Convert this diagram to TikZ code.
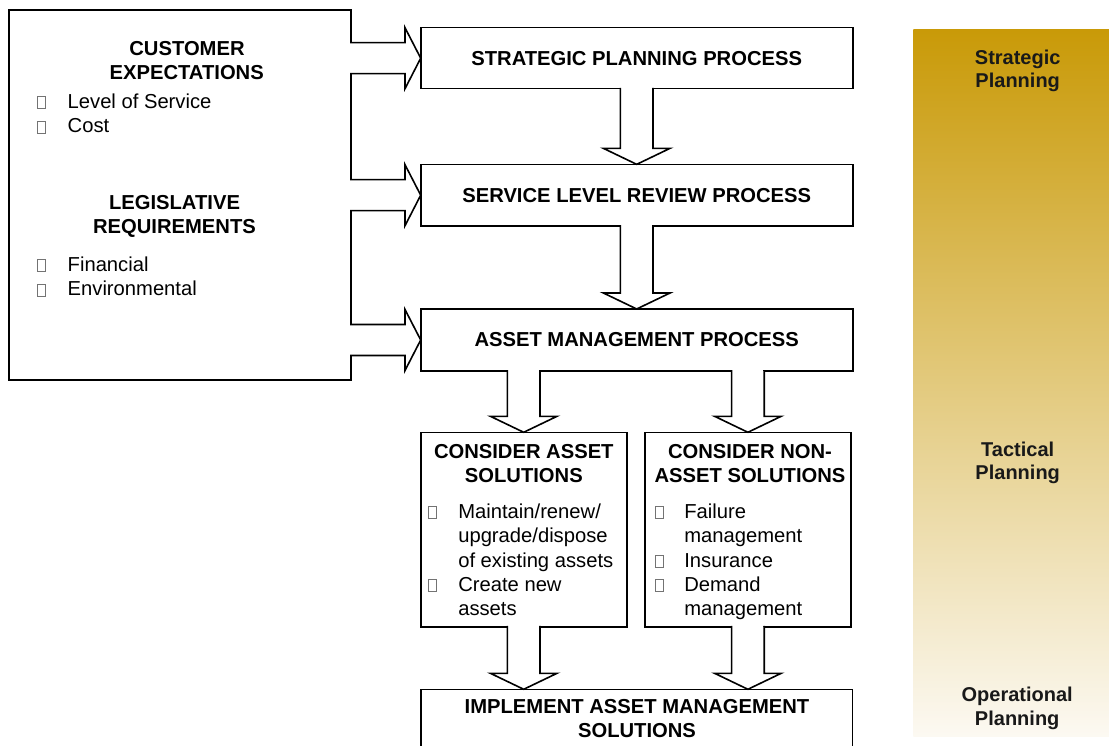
\documentclass[tikz,border=0pt]{standalone}
\usepackage{fontspec}
\setmainfont{Liberation Sans}
\usetikzlibrary{calc}
\definecolor{bandtop}{RGB}{201,154,8}
\definecolor{bandbot}{RGB}{252,249,242}
\newcommand{\hblock}[2]{%
  \fill[white] ($(#1)+(-1.5,-14.7)$) rectangle ($(#2)+(-15.7,14.7)$);
  \draw[blk] ($(#1)+(0,-15.5)$) -- ($(#2)+(-15.7,-15.5)$) -- ($(#2)+(-15.7,-30.5)$) -- (#2)
    -- ($(#2)+(-15.7,30.5)$) -- ($(#2)+(-15.7,15.5)$) -- ($(#1)+(0,15.5)$);}
\newcommand{\vblock}[2]{%
  \fill[white] ($(#1)+(-15.5,-1.5)$) rectangle ($(#2)+(15.5,-16)$);
  \draw[blk] ($(#1)+(-16.3,0)$) -- ($(#2)+(-16.3,-16)$) -- ($(#2)+(-33.3,-16)$) -- (#2)
    -- ($(#2)+(33.3,-16)$) -- ($(#2)+(16.3,-16)$) -- ($(#1)+(16.3,0)$);}
\begin{document}
\begin{tikzpicture}[x=1pt,y=-1pt,
  every node/.style={font=\fontsize{20.2pt}{24.4pt}\selectfont, inner sep=0pt, outer sep=0pt},
  box/.style={draw, line width=1.6pt, fill=white},
  mbox/.style={box, font=\fontsize{20.2pt}{24.4pt}\selectfont\bfseries},
  blk/.style={draw, line width=1.6pt, line cap=rect, line join=miter, fill=white},
  hd/.style={font=\fontsize{20.2pt}{24.4pt}\selectfont\bfseries, anchor=base},
  li/.style={anchor=base west},
  bul/.style={draw=black!55, line width=0.7pt, minimum width=8pt, minimum height=12pt, anchor=south},
  bandtxt/.style={font=\fontsize{20pt}{24pt}\selectfont\bfseries, text=black!90, anchor=base}]
\useasboundingbox (0,0) rectangle (1109,746);
\clip (0,0) rectangle (1109,746);

% gradient band
\shade[top color=bandtop, bottom color=bandbot] (913.3,30) rectangle (1109,736);
\node[bandtxt] (s1) at (1017.7,64.3) {Strategic};
\node[bandtxt] (s2) at (1017.7,87.5) {Planning};
\node[bandtxt] (s3) at (1017.7,456.2) {Tactical};
\node[bandtxt] (s4) at (1017.7,479.8) {Planning};
\node[bandtxt] (s5) at (1017.2,701.7) {Operational};
\node[bandtxt] (s6) at (1017.2,725.7) {Planning};

% boxes
\node[box, minimum width=342pt, minimum height=370pt, anchor=north west] (cust) at (9,10) {};
\node[mbox, minimum width=432pt, minimum height=61pt] (strat) at (636.7,58.2) {STRATEGIC PLANNING PROCESS};
\node[mbox, minimum width=432pt, minimum height=61.7pt] (serv) at (636.7,195.2) {SERVICE LEVEL REVIEW PROCESS};
\node[mbox, minimum width=432pt, minimum height=62pt] (asset) at (636.7,340) {ASSET MANAGEMENT PROCESS};
\node[box, minimum width=206pt, minimum height=194.4pt] (cas) at (523.7,529.5) {};
\node[box, minimum width=205.7pt, minimum height=194.4pt] (cnas) at (747.9,529.5) {};
\node[box, minimum width=431.6pt, minimum height=90pt, anchor=north] (impl) at (636.5,689.3) {};

% arrows
\coordinate (l1) at (cust.east |- strat.west);
\coordinate (l2) at (cust.east |- serv.west);
\coordinate (l3) at (cust.east |- asset.west);
\hblock{l1}{strat.west}
\hblock{l2}{serv.west}
\hblock{l3}{asset.west}
\vblock{strat.south}{serv.north}
\vblock{serv.south}{asset.north}
\coordinate (d1) at (asset.south -| cas.north);
\coordinate (d2) at (asset.south -| cnas.north);
\vblock{d1}{cas.north}
\vblock{d2}{cnas.north}
\coordinate (d3) at (impl.north -| cas.south);
\coordinate (d4) at (impl.north -| cnas.south);
\vblock{cas.south}{d3}
\vblock{cnas.south}{d4}

% left box text
\node[hd] (c1) at (187,55.9) {CUSTOMER};
\node[hd] (c2) at (186.7,80) {EXPECTATIONS};
\node[bul] (b1) at (41.7,108.5) {};
\node[li] (c3) at (67.7,108.5) {Level of Service};
\node[bul] (b2) at (41.7,132.9) {};
\node[li] (c4) at (67.7,132.9) {Cost};
\node[hd] (c5) at (174.5,209.4) {LEGISLATIVE};
\node[hd] (c6) at (174.5,233.8) {REQUIREMENTS};
\node[bul] (b3) at (41.7,271.5) {};
\node[li] (c7) at (67.7,271.5) {Financial};
\node[bul] (b4) at (41.7,295.9) {};
\node[li] (c8) at (67.7,295.9) {Environmental};

% consider asset solutions
\node[hd] (a1) at (523.8,458.3) {CONSIDER ASSET};
\node[hd] (a2) at (523.8,482.5) {SOLUTIONS};
\node[bul] (b5) at (432.7,518.3) {};
\node[li] (a3) at (458.3,518.3) {Maintain/renew/};
\node[li] (a4) at (458.3,542.7) {upgrade/dispose};
\node[li] (a5) at (458.3,567.1) {of existing assets};
\node[bul] (b6) at (432.7,591.5) {};
\node[li] (a6) at (458.3,591.5) {Create new};
\node[li] (a7) at (458.3,615.9) {assets};

% consider non-asset solutions
\node[hd] (n1) at (750,458.3) {CONSIDER NON-};
\node[hd] (n2) at (750,482.5) {ASSET SOLUTIONS};
\node[bul] (b7) at (659.3,518.3) {};
\node[li] (n3) at (684.3,518.3) {Failure};
\node[li] (n4) at (684.3,542.7) {management};
\node[bul] (b8) at (659.3,567.1) {};
\node[li] (n5) at (684.3,567.1) {Insurance};
\node[bul] (b9) at (659.3,591.5) {};
\node[li] (n6) at (684.3,591.5) {Demand};
\node[li] (n7) at (684.3,615.9) {management};

% implement
\node[hd] (i1) at (637,713.5) {IMPLEMENT ASSET MANAGEMENT};
\node[hd] (i2) at (637,737) {SOLUTIONS};
\end{tikzpicture}
\end{document}
